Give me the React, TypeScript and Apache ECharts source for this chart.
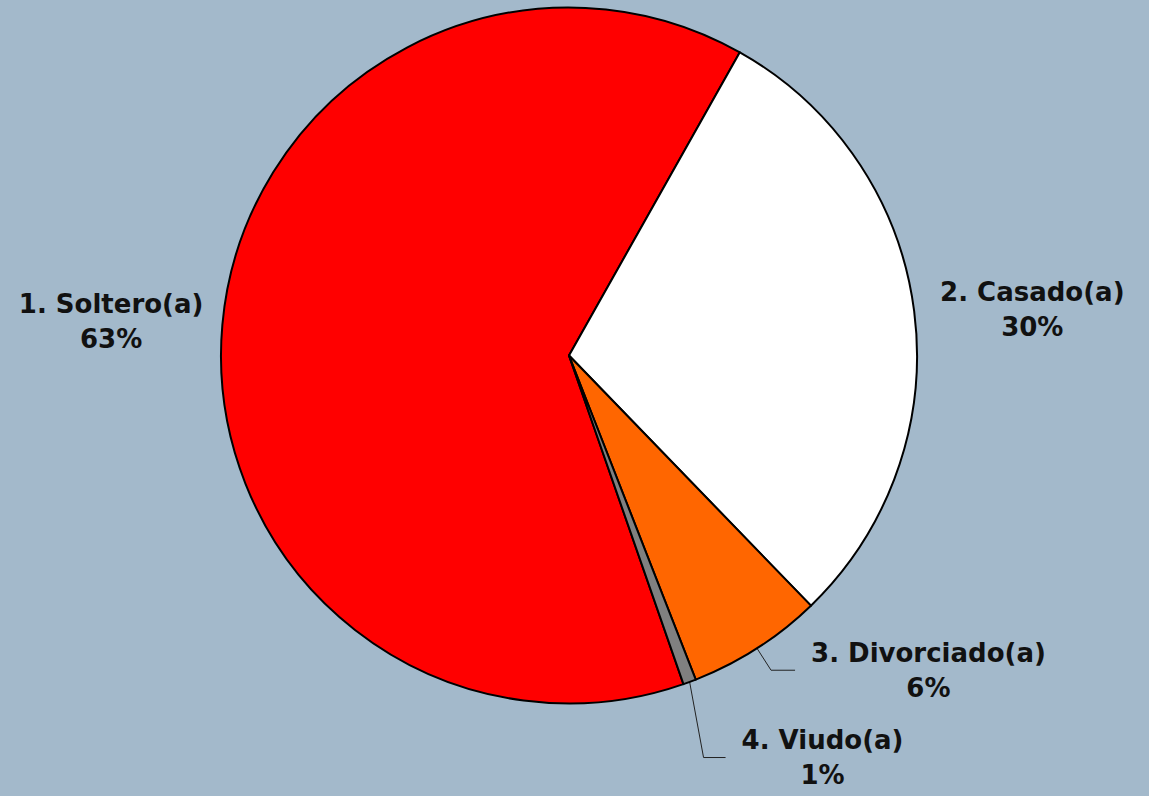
import React, { useEffect, useRef } from "react";
import * as echarts from "echarts";

// Data
const categories = ["1. Soltero(a)", "2. Casado(a)", "3. Divorciado(a)", "4. Viudo(a)"];
const values = [63.5, 29.6, 6.3, 0.6];

// Styles
const sliceColors = ["#ff0000", "#ffffff", "#ff6600", "#808080"];
const lineLengths = [6, 10, 26, 80.6];
const lineLengths2 = [8, 11, 24, 8];
const lineShown = [false, false, true, true];
const labelGaps = [5, 5, 16, 16];

export default function App() {
  const ref = useRef<HTMLDivElement>(null);

  useEffect(() => {
    if (!ref.current) return;
    const chart = echarts.init(ref.current, undefined, { renderer: "svg" });
    const data = categories.map((name, i) => ({
      name,
      value: values[i],
      itemStyle: { color: sliceColors[i] },
      label: { distanceToLabelLine: labelGaps[i] },
      labelLine: { show: lineShown[i], length: lineLengths[i], length2: lineLengths2[i] },
    }));
    chart.setOption({
      animation: false,
      backgroundColor: "#a3b9cb",
      series: [
        {
          type: "pie",
          center: [569, 355.5],
          radius: 348,
          startAngle: 289.2,
          clockwise: true,
          avoidLabelOverlap: false,
          percentPrecision: 0,
          emphasis: { disabled: true },
          itemStyle: { borderColor: "#000", borderWidth: 2 },
          label: {
            show: true,
            position: "outside",
            formatter: "{t|{b}}\n{t|{d}%}",
            rich: {
              t: {
                fontFamily: "DejaVu Sans",
                fontWeight: "bold",
                fontSize: 26,
                lineHeight: 35,
                color: "#111",
                align: "center",
              },
            },
          },
          labelLine: { lineStyle: { color: "#222", width: 1 } },
          labelLayout: (params: any) => {
            if (params.dataIndex === 0) return { dy: -3 };
            if (params.dataIndex === 3 && params.labelLinePoints) {
              const p = params.labelLinePoints;
              return { labelLinePoints: [p[0], [p[2][0] - 22, p[2][1]], p[2]] };
            }
            return {};
          },
          data,
        },
      ],
    });
    return () => chart.dispose();
  }, []);

  return (
    <div
      ref={ref}
      style={{ position: "fixed", left: 0, top: 0, width: 1149, height: 796 }}
    />
  );
}
